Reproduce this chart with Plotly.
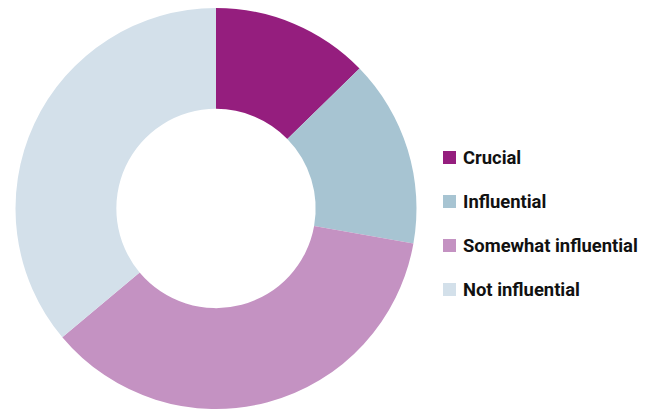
import plotly.graph_objects as go

# Share of respondents per rating (percent)
labels = ["Crucial", "Influential", "Somewhat influential", "Not influential"]
values = [12.7, 15.1, 36.1, 36.1]
colors = ["#951E7E", "#A7C4D2", "#C492C2", "#D3E0EA"]

W, H = 649, 414

fig = go.Figure(
    go.Pie(
        labels=labels,
        values=values,
        hole=0.497,
        sort=False,
        direction="clockwise",
        rotation=0,
        marker=dict(colors=colors, line=dict(width=0)),
        textinfo="none",
        hoverinfo="label+percent",
        showlegend=False,
        domain=dict(x=[15.5 / W, 416.5 / W], y=[5.0 / H, 406.0 / H]),
    )
)

# Legend drawn as swatches plus labels, one row per category
shapes, annotations = [], []
row0, gap, sw = 157.5, 44.0, 13.0
for i, (lab, col) in enumerate(zip(labels, colors)):
    yc = row0 + i * gap
    shapes.append(dict(
        type="rect", xref="paper", yref="paper",
        x0=443 / W, x1=(443 + sw) / W,
        y0=1 - (yc + sw / 2) / H, y1=1 - (yc - sw / 2) / H,
        fillcolor=col, line=dict(width=0),
    ))
    annotations.append(dict(
        text=f"<b>{lab}</b>", xref="paper", yref="paper",
        x=461 / W, y=1 - yc / H, xanchor="left", yanchor="middle",
        showarrow=False, font=dict(family="Roboto", size=18.4, color="#111111"),
    ))

fig.update_layout(
    width=W, height=H,
    margin=dict(l=0, r=0, t=0, b=0),
    paper_bgcolor="white", plot_bgcolor="white",
    shapes=shapes, annotations=annotations,
)

fig.write_html("out.html")
